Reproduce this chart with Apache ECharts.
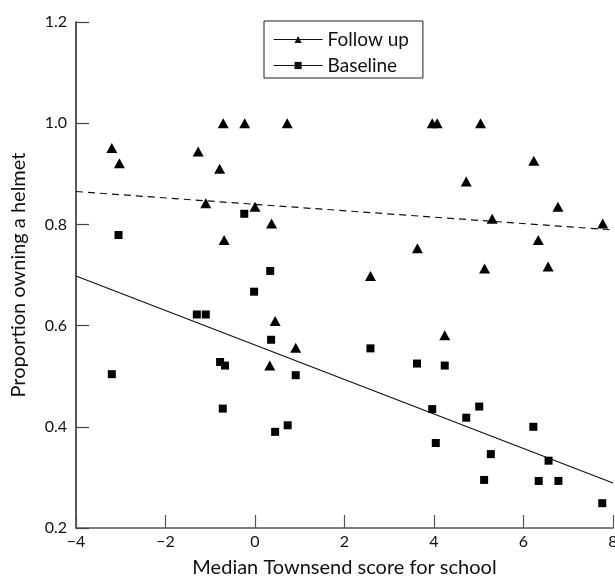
<!DOCTYPE html>
<html>
<head>
<meta charset="utf-8">
<script src="https://cdn.jsdelivr.net/npm/echarts@6/dist/echarts.min.js"></script>
<style>html,body{margin:0;padding:0;background:#fff}#c{width:615px;height:579px}</style>
</head>
<body>
<div id="c"></div>
<script>
// Follow up (triangles): [Townsend score, proportion]
const followUp = [
  [-3.20, 0.951], [-3.03, 0.921], [-1.27, 0.944], [-0.79, 0.910], [-0.71, 1.0],
  [-0.23, 1.0], [0.72, 1.0], [-1.10, 0.842], [0.00, 0.835], [0.37, 0.802],
  [-0.69, 0.769], [3.96, 1.0], [4.07, 1.0], [5.04, 1.0], [6.23, 0.926],
  [4.72, 0.885], [6.77, 0.835], [5.30, 0.811], [7.77, 0.802], [6.33, 0.769],
  [3.63, 0.753], [5.13, 0.713], [6.55, 0.717], [2.58, 0.698], [4.24, 0.581],
  [0.45, 0.609], [0.91, 0.556], [0.33, 0.521]
];
// Baseline (squares)
const baseline = [
  [-3.05, 0.779], [-0.24, 0.821], [0.34, 0.708], [-0.02, 0.667], [-1.30, 0.622],
  [-1.10, 0.622], [0.36, 0.572], [-0.78, 0.528], [-0.67, 0.521], [-3.20, 0.504],
  [0.91, 0.502], [-0.72, 0.436], [0.73, 0.403], [0.45, 0.390], [2.58, 0.555],
  [3.62, 0.525], [4.24, 0.521], [3.96, 0.435], [5.01, 0.440], [4.72, 0.418],
  [6.22, 0.400], [4.04, 0.368], [5.27, 0.346], [6.56, 0.333], [5.12, 0.295],
  [6.34, 0.293], [6.78, 0.293], [7.76, 0.249]
];
// Fitted regression lines (endpoints)
const followUpFit = [[-4, 0.865], [8, 0.789]];
const baselineFit = [[-4, 0.698], [8, 0.289]];
const xTicks = [-4, -2, 0, 2, 4, 6, 8];
const yTicks = [0.2, 0.4, 0.6, 0.8, 1.0, 1.2];

const FONT = 'Lato';
const chart = echarts.init(document.getElementById('c'), null, {renderer: 'canvas'});
chart.setOption({
  animation: false,
  backgroundColor: '#fff',
  textStyle: {fontFamily: FONT},
  grid: {left: 76, right: 2, top: 22, bottom: 51, containLabel: false, outerBoundsMode: 'none'},
  legend: {
    data: ['Follow up', 'Baseline'],
    orient: 'vertical',
    left: 264, top: 21,
    padding: [9, 14, 3, 9],
    itemGap: 7,
    itemWidth: 49, itemHeight: 9,
    borderColor: '#222', borderWidth: 1,
    textStyle: {fontFamily: FONT, fontSize: 19, color: '#111'},
    lineStyle: {width: 1.2, color: '#111', opacity: 1},
    itemStyle: {color: '#111'}
  },
  xAxis: {
    type: 'value', min: -4, max: 8, interval: 2,
    name: 'Median Townsend score for school',
    nameLocation: 'middle', nameGap: 30,
    nameTextStyle: {fontFamily: FONT, fontSize: 20, color: '#111'},
    axisLine: {show: true, onZero: false, lineStyle: {color: '#555', width: 1.5}},
    axisTick: {show: true, inside: true, length: 13, lineStyle: {color: '#555', width: 1.2}},
    axisLabel: {fontFamily: FONT, fontSize: 16, color: '#111', margin: 6,
      formatter: v => String(v).replace('-', '\u2212')},
    splitLine: {show: false}
  },
  yAxis: {
    type: 'value', min: 0.2, max: 1.2, interval: 0.2,
    name: 'Proportion owning a helmet',
    nameLocation: 'middle', nameGap: 47,
    nameTextStyle: {fontFamily: FONT, fontSize: 20, color: '#111'},
    axisLine: {show: true, onZero: false, lineStyle: {color: '#222', width: 1.5}},
    axisTick: {show: true, inside: true, length: 13, lineStyle: {color: '#444', width: 1.2}},
    axisLabel: {fontFamily: FONT, fontSize: 16, color: '#111', margin: 9,
      formatter: v => v.toFixed(1)},
    splitLine: {show: false}
  },
  series: [
    {
      name: 'Follow up', type: 'line', data: followUp,
      symbol: 'triangle', symbolSize: [11, 10],
      lineStyle: {opacity: 0, width: 1},
      itemStyle: {color: '#000'}, z: 3
    },
    {
      name: 'Baseline', type: 'line', data: baseline,
      symbol: 'rect', symbolSize: 8,
      lineStyle: {opacity: 0, width: 1},
      itemStyle: {color: '#000'}, z: 3
    },
    {
      name: 'Follow up fit', type: 'line', data: followUpFit,
      symbol: 'none', lineStyle: {color: '#111', width: 1.2, type: [7, 5]}, z: 2
    },
    {
      name: 'Baseline fit', type: 'line', data: baselineFit,
      symbol: 'none', lineStyle: {color: '#111', width: 1.2}, z: 2
    }
  ]
});
</script>
</body>
</html>
